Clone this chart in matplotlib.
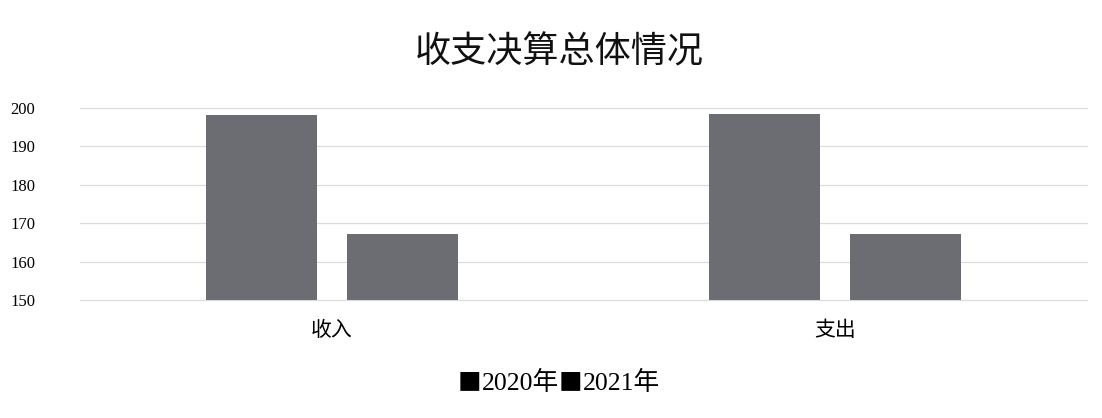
import matplotlib
matplotlib.use("Agg")
import matplotlib.pyplot as plt
import numpy as np

categories = ["收入", "支出"]
years = ["2020年", "2021年"]
values_2020 = [198.2, 198.5]
values_2021 = [167.2, 167.3]
yticks = [150, 160, 170, 180, 190, 200]

W, H = 1102, 418
fig = plt.figure(figsize=(W / 100, H / 100), dpi=100)
ax = fig.add_axes([80 / W, 1 - 300 / H, (1087 - 80) / W, (300 - 108) / H])

x = np.arange(len(categories))
bw = 0.221
off = 0.140
bar_color = "#6b6d73"
ax.bar(x - off, np.array(values_2020) - 150, bw, bottom=150, color=bar_color, zorder=3)
ax.bar(x + off, np.array(values_2021) - 150, bw, bottom=150, color=bar_color, zorder=3)

ax.set_xlim(-0.5, 1.5)
ax.set_ylim(150, 200)
ax.set_yticks(yticks)
ax.set_yticklabels([str(v) for v in yticks], family=["Liberation Serif"], fontsize=12)
ax.set_xticks(x)
ax.set_xticklabels(categories, family=["Noto Sans CJK SC"], fontsize=15, fontweight=300)
ax.tick_params(axis="y", length=0, pad=50)
ax.tick_params(axis="x", length=0, pad=14)
for lab in ax.get_yticklabels():
    lab.set_horizontalalignment("left")
ax.grid(axis="y", color="#dcdcdc", linewidth=0.9, zorder=0)
for gl in ax.get_ygridlines():
    gl.set_clip_on(False)
for s in ax.spines.values():
    s.set_visible(False)

fig.text(559 / W, 1 - 52 / H, "收支决算总体情况", family=["Noto Sans CJK SC"],
         fontsize=26, fontweight=300, ha="center", va="center", color="#111111")

# legend line built from chained pieces: big square + serif year text
leg_font = ["Liberation Serif", "Noto Sans CJK SC", "DejaVu Sans"]
sq_font = ["Noto Sans CJK SC", "DejaVu Sans"]
prev = fig.text(458 / W, 1 - 383 / H, "■", family=sq_font, fontsize=17,
                ha="left", va="center", color="#000000")
pieces = [(years[0], leg_font, 18.5), ("■", sq_font, 17), (years[1], leg_font, 18.5)]
for txt, fam, fs in pieces:
    prev = ax.annotate(txt, xy=(1, 0.5), xycoords=prev, xytext=(0, 0),
                       textcoords="offset points", family=fam, fontsize=fs,
                       ha="left", va="center", color="#000000",
                       annotation_clip=False)

fig.savefig("out.png", dpi=100)
